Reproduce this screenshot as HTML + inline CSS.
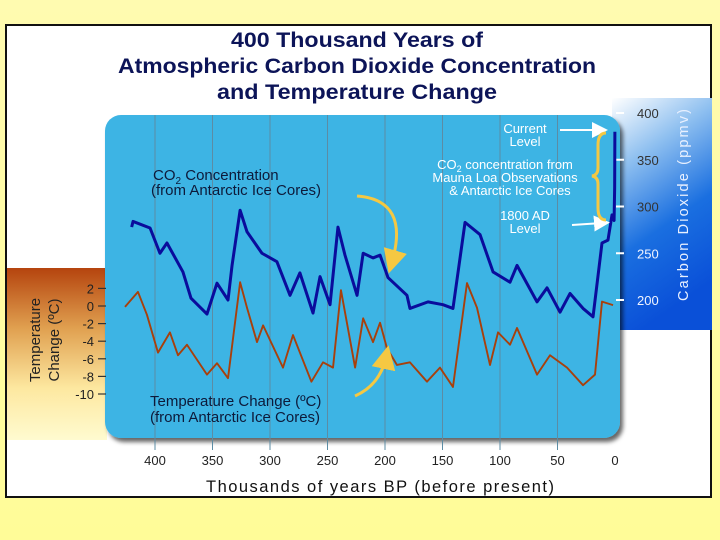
<!DOCTYPE html>
<html><head><meta charset="utf-8"><style>
html,body{margin:0;padding:0;background:#fffca0;}
svg{display:block;font-family:"Liberation Sans",sans-serif;}
</style></head><body>
<svg id="chart" width="720" height="540" viewBox="0 0 720 540">
<defs>
<linearGradient id="bg" x1="0" y1="0" x2="0" y2="1"><stop offset="0" stop-color="#fffbb0"/><stop offset="1" stop-color="#fffc98"/></linearGradient>
<linearGradient id="rg" x1="0" y1="0" x2="0.3" y2="1"><stop offset="0" stop-color="#ffffff"/><stop offset="0.3" stop-color="#8fc0f0"/><stop offset="0.65" stop-color="#1a6fe0"/><stop offset="1" stop-color="#0a50d8"/></linearGradient>
<linearGradient id="tg" x1="0" y1="0" x2="0" y2="1" gradientUnits="userSpaceOnUse" gradientTransform="rotate(0)"><stop offset="0" stop-color="#3070d8"/><stop offset="1" stop-color="#ffffff"/></linearGradient>
<linearGradient id="lg" x1="0" y1="0" x2="0" y2="1"><stop offset="0" stop-color="#b5440e"/><stop offset="0.35" stop-color="#e0a050"/><stop offset="0.7" stop-color="#fde8a0"/><stop offset="1" stop-color="#fffbd0"/></linearGradient>
<filter id="sh" x="-5%" y="-5%" width="115%" height="115%"><feDropShadow dx="3" dy="4" stdDeviation="2" flood-color="#000" flood-opacity="0.6"/></filter>
<marker id="ya" markerWidth="8" markerHeight="8" refX="4" refY="4" orient="auto"><path d="M0,0 L8,4 L0,8 Z" fill="#f5c842"/></marker>
<marker id="wa" markerWidth="8" markerHeight="8" refX="4" refY="4" orient="auto"><path d="M0,0 L8,4 L0,8 Z" fill="#ffffff"/></marker>
</defs>
<rect x="0" y="0" width="720" height="540" fill="url(#bg)"/>
<rect x="6" y="25" width="705" height="472" fill="#ffffff" stroke="#111" stroke-width="2"/>
<g fill="#0c1458" font-weight="bold" font-size="21" text-anchor="middle">
<text x="357" y="47" textLength="252" lengthAdjust="spacingAndGlyphs">400 Thousand Years of</text>
<text x="357" y="73" textLength="478" lengthAdjust="spacingAndGlyphs">Atmospheric Carbon Dioxide Concentration</text>
<text x="357" y="99" textLength="280" lengthAdjust="spacingAndGlyphs">and Temperature Change</text>
</g>
<rect x="612" y="98" width="100" height="232" fill="url(#rg)"/>
<rect x="7" y="268" width="100" height="172" fill="url(#lg)"/>
<rect x="105" y="115" width="515" height="323" rx="16" fill="#3cb4e4" filter="url(#sh)"/>
<g id="grid"></g>
<g id="xticks" font-size="13" fill="#222" text-anchor="middle"></g>
<text x="380" y="492" font-size="16.5" fill="#111" text-anchor="middle" textLength="348">Thousands of years BP (before present)</text>
<g id="co2ticks" font-size="13" text-anchor="start"></g>
<text transform="translate(688,205) rotate(-90)" font-size="14.5" fill="#e8f0ff" text-anchor="middle" textLength="192">Carbon Dioxide (ppmv)</text>
<g id="tticks" font-size="13" fill="#222" text-anchor="end"></g>
<g font-size="15" fill="#222" text-anchor="middle">
<text transform="translate(40,340) rotate(-90)">Temperature</text>
<text transform="translate(59,340) rotate(-90)">Change  (ºC)</text>
</g>
<g id="series"></g>
<g font-size="15" fill="#0d1a3a">
<text x="153" y="180">CO<tspan font-size="10" dy="4">2</tspan><tspan dy="-4"> Concentration</tspan></text>
<text x="151" y="195">(from Antarctic Ice Cores)</text>
</g>
<path d="M357,196 Q410,200 392,262" fill="none" stroke="#f5c842" stroke-width="3" marker-end="url(#ya)"/>
<g font-size="15" fill="#0d1a3a">
<text x="150" y="406">Temperature Change (ºC)</text>
<text x="150" y="422">(from Antarctic Ice Cores)</text>
</g>
<path d="M355,396 Q380,385 386,357" fill="none" stroke="#f5c842" stroke-width="3" marker-end="url(#ya)"/>
<g font-size="13" fill="#ffffff" text-anchor="middle">
<text x="525" y="133">Current</text><text x="525" y="146">Level</text>
<text x="505" y="169">CO<tspan font-size="9" dy="3">2</tspan><tspan dy="-3"> concentration from</tspan></text>
<text x="505" y="182">Mauna Loa Observations</text>
<text x="510" y="195">&amp; Antarctic Ice Cores</text>
<text x="525" y="220">1800 AD</text><text x="525" y="233">Level</text>
</g>
<line x1="560" y1="130" x2="600" y2="130" stroke="#fff" stroke-width="2" marker-end="url(#wa)"/>
<line x1="572" y1="225" x2="602" y2="223" stroke="#fff" stroke-width="2" marker-end="url(#wa)"/>
<path d="M606,133 Q598,133 598,145 L598,168 Q598,175 592,176 Q598,177 598,184 L598,208 Q598,220 606,220" fill="none" stroke="#f5c842" stroke-width="3"/>
</svg>
<script>
const xTicks=[400,350,300,250,200,150,100,50,0];
const co2Ticks=[400,350,300,250,200];
const tempTicks=[2,0,-2,-4,-6,-8,-10];
const co2Years=[420.3,419.1,404.3,395.7,389.6,375.7,368.7,354.8,346.1,336.5,333,326,320,307,294,282.6,274,262.6,256.5,247.8,240.9,234.8,224.3,219,210.4,204.3,197.4,180.9,178.3,162.6,149.6,140.9,130.4,117.4,106,91.3,85.2,67.8,59.1,47.8,39.1,27.8,19.1,11.3,6.1,2.6,0.8,0.3,0.1];
const co2Values=[278,284,277,250,261,230,202,185,218,200,237,296,273,250,241,205,229,186,225,195,278,248,205,250,245,248,224,205,191,198,195,191,283,270,230,219,237,198,213,187,207,191,182,261,264,291,285,320,380];
const tempYears=[426.1,414.8,407,397.4,387,380,372.2,354.8,346.1,336.5,326,320,311.3,306,288.7,280,264,253.9,245.2,238.3,226,219,210.4,204.3,198.3,189.6,178.3,163.5,152.2,140.9,128.7,120,108.7,101.7,91.3,85.2,67.8,56.5,41.7,27.8,17.4,11.3,1.7];
const tempValues=[-0.1,1.6,-1.0,-5.3,-3.0,-5.6,-4.4,-7.8,-6.5,-8.2,2.7,-0.2,-4.1,-2.2,-7.0,-3.3,-8.6,-6.4,-7.0,1.8,-7.0,-1.4,-4.1,-1.9,-4.8,-6.7,-6.4,-8.6,-7.0,-9.2,2.6,-0.2,-6.7,-3.0,-4.4,-2.5,-7.8,-5.6,-7.0,-9.0,-7.8,0.5,0.1];
const NS='http://www.w3.org/2000/svg';
function xS(k){return 615-k*1.15;}
function yC(c){return 300-(c-200)*0.935;}
function yT(t){return 306-t*8.8;}
function mk(tag,attrs,parent){const e=document.createElementNS(NS,tag);for(const a in attrs)e.setAttribute(a,attrs[a]);parent.appendChild(e);return e;}
const grid=document.getElementById('grid'),xt=document.getElementById('xticks');
xTicks.forEach(k=>{
 if(k>0&&k<=400){const l=mk('line',{x1:xS(k),x2:xS(k),y1:115,y2:450,stroke:'#5c8ca4','stroke-width':1},grid);
 
 }
 const t=mk('text',{x:xS(k),y:465},xt);t.textContent=k;
 
 
});
const ct=document.getElementById('co2ticks');
co2Ticks.forEach(c=>{
 const l=mk('line',{x1:616,x2:624,y1:yC(c),y2:yC(c),stroke:'#fff','stroke-width':2},ct);
 
 
 const t=mk('text',{x:637,y:yC(c)+5,fill:c>=300?'#333':'#f0f4ff'},ct);t.textContent=c;
 
 
});
const tt=document.getElementById('tticks');
tempTicks.forEach(v=>{
 const l=mk('line',{x1:98,x2:106,y1:yT(v),y2:yT(v),stroke:'#333','stroke-width':1.2},tt);
 
 
 const t=mk('text',{x:94,y:yT(v)+5},tt);t.textContent=v;
 
 
});
const s=document.getElementById('series');
const tp=mk('polyline',{points:tempYears.map((k,i)=>xS(k)+','+yT(tempValues[i])).join(' '),fill:'none',stroke:'#a8400c','stroke-width':1.9,'stroke-linejoin':'round'},s);


const cp=mk('polyline',{points:co2Years.map((k,i)=>xS(k)+','+yC(co2Values[i])).join(' '),fill:'none',stroke:'#0a0c9c','stroke-width':3,'stroke-linejoin':'round'},s);


</script>
</body></html>
